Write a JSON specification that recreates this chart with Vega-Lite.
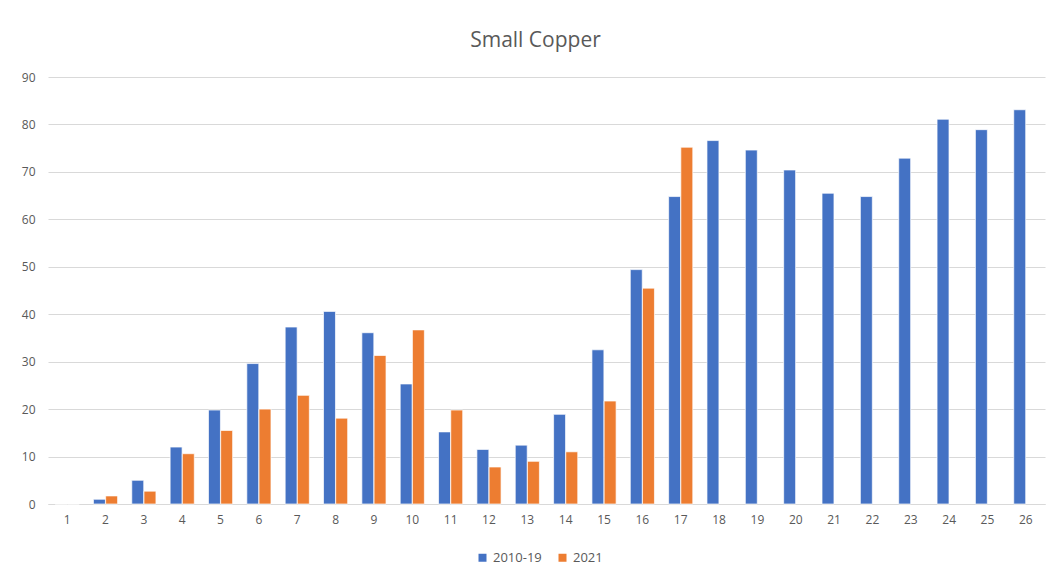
{
  "$schema": "https://vega.github.io/schema/vega-lite/v6.json",
  "autosize": "none",
  "width": 997,
  "height": 427,
  "padding": {"left": 48, "top": 77, "right": 8, "bottom": 76},
  "background": "white",
  "title": {"text": "Small Copper", "fontSize": 21, "font": "Open Sans", "fontWeight": "normal", "color": "#595959", "anchor": "middle", "offset": 20, "dx": -11},
  "data": {"values": [
    {"week": 1, "series": "2010-19", "value": 0},
    {"week": 1, "series": "2021", "value": 0},
    {"week": 2, "series": "2010-19", "value": 1.0},
    {"week": 2, "series": "2021", "value": 1.7},
    {"week": 3, "series": "2010-19", "value": 5.0},
    {"week": 3, "series": "2021", "value": 2.7},
    {"week": 4, "series": "2010-19", "value": 12.0},
    {"week": 4, "series": "2021", "value": 10.6},
    {"week": 5, "series": "2010-19", "value": 19.8},
    {"week": 5, "series": "2021", "value": 15.5},
    {"week": 6, "series": "2010-19", "value": 29.6},
    {"week": 6, "series": "2021", "value": 20.0},
    {"week": 7, "series": "2010-19", "value": 37.3},
    {"week": 7, "series": "2021", "value": 22.9},
    {"week": 8, "series": "2010-19", "value": 40.6},
    {"week": 8, "series": "2021", "value": 18.1},
    {"week": 9, "series": "2010-19", "value": 36.1},
    {"week": 9, "series": "2021", "value": 31.3},
    {"week": 10, "series": "2010-19", "value": 25.3},
    {"week": 10, "series": "2021", "value": 36.7},
    {"week": 11, "series": "2010-19", "value": 15.2},
    {"week": 11, "series": "2021", "value": 19.8},
    {"week": 12, "series": "2010-19", "value": 11.5},
    {"week": 12, "series": "2021", "value": 7.8},
    {"week": 13, "series": "2010-19", "value": 12.4},
    {"week": 13, "series": "2021", "value": 9.0},
    {"week": 14, "series": "2010-19", "value": 18.9},
    {"week": 14, "series": "2021", "value": 11.0},
    {"week": 15, "series": "2010-19", "value": 32.5},
    {"week": 15, "series": "2021", "value": 21.7},
    {"week": 16, "series": "2010-19", "value": 49.4},
    {"week": 16, "series": "2021", "value": 45.5},
    {"week": 17, "series": "2010-19", "value": 64.8},
    {"week": 17, "series": "2021", "value": 75.2},
    {"week": 18, "series": "2010-19", "value": 76.6},
    {"week": 19, "series": "2010-19", "value": 74.6},
    {"week": 20, "series": "2010-19", "value": 70.4},
    {"week": 21, "series": "2010-19", "value": 65.5},
    {"week": 22, "series": "2010-19", "value": 64.8},
    {"week": 23, "series": "2010-19", "value": 72.9},
    {"week": 24, "series": "2010-19", "value": 81.1},
    {"week": 25, "series": "2010-19", "value": 78.9},
    {"week": 26, "series": "2010-19", "value": 83.1}
  ]},
  "mark": {"type": "bar", "stroke": "white", "strokeWidth": 0.7},
  "encoding": {
    "x": {"field": "week", "type": "ordinal", "sort": "ascending",
      "scale": {"paddingInner": 0.37, "paddingOuter": 0.185},
      "axis": {"title": null, "labelAngle": 0, "ticks": false, "domain": true, "domainColor": "#d9d9d9", "labelColor": "#595959", "labelFont": "Open Sans", "labelFontSize": 12, "labelPadding": 10}},
    "xOffset": {"field": "series", "type": "nominal", "scale": {"paddingInner": 0.02}},
    "y": {"field": "value", "type": "quantitative",
      "scale": {"domain": [0, 90]},
      "axis": {"title": null, "values": [0, 10, 20, 30, 40, 50, 60, 70, 80, 90], "ticks": false, "domain": false, "gridColor": "#d9d9d9", "labelColor": "#595959", "labelFont": "Open Sans", "labelFontSize": 12, "labelPadding": 13}},
    "color": {"field": "series", "type": "nominal",
      "scale": {"domain": ["2010-19", "2021"], "range": ["#4472C4", "#ED7D31"]},
      "legend": {"title": null, "orient": "none", "legendX": 428, "legendY": 474, "direction": "horizontal", "symbolType": "square", "symbolSize": 64, "symbolStrokeWidth": 0, "labelColor": "#595959", "labelFont": "Open Sans", "labelFontSize": 13, "columnPadding": 14}}
  },
  "config": {"view": {"stroke": null}}
}
